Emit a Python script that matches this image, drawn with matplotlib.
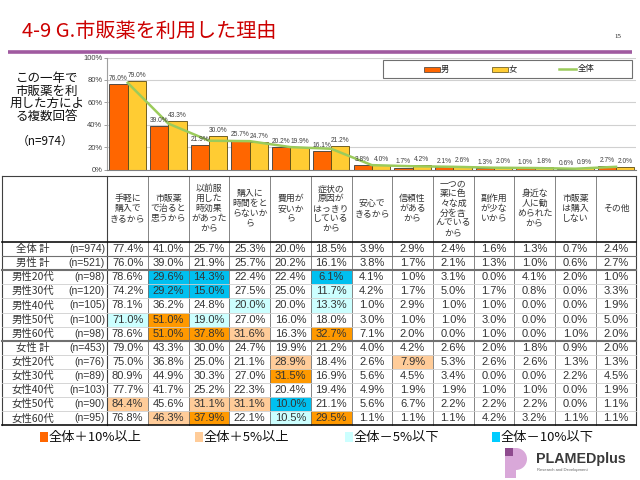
import matplotlib
matplotlib.use('Agg')
import matplotlib.pyplot as plt
from matplotlib.patches import Rectangle, Wedge
from matplotlib.lines import Line2D
import numpy as np

plt.rcParams['font.family'] = ['Liberation Sans', 'Noto Sans CJK JP', 'DejaVu Sans']

# ---------------- data ----------------
title = "4-9 G.市販薬を利用した理由"
note_lines = ["この一年で", "市販薬を利", "用した方によ", "る複数回答"]
note_n = "（n=974）"

categories = [
    ["手軽に", "購入で", "きるから"],
    ["市販薬", "で治ると", "思うから"],
    ["以前服", "用した", "時効果", "があった", "から"],
    ["購入に", "時間をと", "らないか", "ら"],
    ["費用が", "安いか", "ら"],
    ["症状の", "原因が", "はっきり", "している", "から"],
    ["安心で", "きるから"],
    ["信頼性", "がある", "から"],
    ["一つの", "薬に色", "々な成", "分を含", "んでいる", "から"],
    ["副作用", "が少な", "いから"],
    ["身近な", "人に勧", "められた", "から"],
    ["市販薬", "は購入", "しない"],
    ["その他"],
]

row_labels = ["全体 計", "男性 計", "男性20代", "男性30代", "男性40代", "男性50代", "男性60代",
              "女性 計", "女性20代", "女性30代", "女性40代", "女性50代", "女性60代"]
row_n = ["(n=974)", "(n=521)", "(n=98)", "(n=120)", "(n=105)", "(n=100)", "(n=98)",
         "(n=453)", "(n=76)", "(n=89)", "(n=103)", "(n=90)", "(n=95)"]

total = [77.4, 41.0, 25.7, 25.3, 20.0, 18.5, 3.9, 2.9, 2.4, 1.6, 1.3, 0.7, 2.4]
male = [76.0, 39.0, 21.9, 25.7, 20.2, 16.1, 3.8, 1.7, 2.1, 1.3, 1.0, 0.6, 2.7]
m20 = [78.6, 29.6, 14.3, 22.4, 22.4, 6.1, 4.1, 1.0, 3.1, 0.0, 4.1, 2.0, 1.0]
m30 = [74.2, 29.2, 15.0, 27.5, 25.0, 11.7, 4.2, 1.7, 5.0, 1.7, 0.8, 0.0, 3.3]
m40 = [78.1, 36.2, 24.8, 20.0, 20.0, 13.3, 1.0, 2.9, 1.0, 1.0, 0.0, 0.0, 1.9]
m50 = [71.0, 51.0, 19.0, 27.0, 16.0, 18.0, 3.0, 1.0, 1.0, 3.0, 0.0, 0.0, 5.0]
m60 = [78.6, 51.0, 37.8, 31.6, 16.3, 32.7, 7.1, 2.0, 0.0, 1.0, 0.0, 1.0, 2.0]
female = [79.0, 43.3, 30.0, 24.7, 19.9, 21.2, 4.0, 4.2, 2.6, 2.0, 1.8, 0.9, 2.0]
f20 = [75.0, 36.8, 25.0, 21.1, 28.9, 18.4, 2.6, 7.9, 5.3, 2.6, 2.6, 1.3, 1.3]
f30 = [80.9, 44.9, 30.3, 27.0, 31.5, 16.9, 5.6, 4.5, 3.4, 0.0, 0.0, 2.2, 4.5]
f40 = [77.7, 41.7, 25.2, 22.3, 20.4, 19.4, 4.9, 1.9, 1.9, 1.0, 1.0, 0.0, 1.9]
f50 = [84.4, 45.6, 31.1, 31.1, 10.0, 21.1, 5.6, 6.7, 2.2, 2.2, 2.2, 0.0, 1.1]
f60 = [76.8, 46.3, 37.9, 22.1, 10.5, 29.5, 1.1, 1.1, 1.1, 4.2, 3.2, 1.1, 1.1]

# highlight codes per row: 0 none, 1 +10以上, 2 +5以上, 3 -5以下, 4 -10以下
highlight = [
    "0000000000000",
    "0000000000000",
    "0440040000000",
    "0440030000000",
    "0003030000000",
    "3130000000000",
    "0112010000000",
    "0000000000000",
    "0000200200000",
    "0000100000000",
    "0000000000000",
    "2022400000000",
    "0210310000000",
]
legend_labels = ["全体＋10%以上", "全体＋5%以上", "全体－5%以下", "全体－10%以下"]
series_labels = ["男", "女", "全体"]

# ---------------- styles ----------------
C_MALE = '#FF6600'
C_FEMALE = '#FFCC33'
C_LINE = '#9BCB5B'
HL_COLORS = {1: '#FF9900', 2: '#FFCC99', 3: '#CCFFFF', 4: '#00C0F0'}
LEG_COLORS = ['#FF6600', '#FFCC99', '#CCFFFF', '#00CCFF']
TXT = '#333333'

W, H = 640, 480
TBL_LEFT = 1.5
TBL_X0 = 107.3
COL_W = 40.7
HDR_TOP = 176.0
ROW_Y0 = 242.0
ROW_H = 14.1
NCOL = len(total)
TBL_RIGHT = TBL_X0 + NCOL * COL_W
CH_TOP, CH_BOT = 57.5, 169.5

fig = plt.figure(figsize=(6.4, 4.8), dpi=100)
bg = fig.add_axes([0, 0, 1, 1])
bg.set_xlim(0, W)
bg.set_ylim(H, 0)
bg.axis('off')

# title & header line
bg.text(22, 31, title, color='#CC0000', fontsize=14.5, va='center', ha='left',
        family=['Noto Sans CJK JP', 'DejaVu Sans'])
bg.text(618, 37, "15", fontsize=5, va='center', ha='center', color='#222222', family='Liberation Serif')
bg.plot([8, 632], [51.5, 51.5], color='#A05AA0', lw=2.6, solid_capstyle='butt')

# left note
for k, s in enumerate(note_lines):
    bg.text(47, 78.5 + k * 12.5, s, fontsize=9, ha='center', va='center', color='#111111',
            family=['Noto Sans CJK JP'])
bg.text(45, 141, note_n, fontsize=8.5, ha='center', va='center', color='#111111',
        family=['Noto Sans CJK JP'])

# ---------------- chart ----------------
ax = fig.add_axes([TBL_X0 / W, 1 - CH_BOT / H, (TBL_RIGHT - TBL_X0) / W, (CH_BOT - CH_TOP) / H])
x = np.arange(NCOL)
bw = 0.45
mv = np.array(male) / 100
fv = np.array(female) / 100
tv = np.array(total) / 100
ax.bar(x - bw / 2, mv, bw, color=C_MALE, edgecolor='#3a3a3a', lw=0.6, zorder=2)
ax.bar(x + bw / 2, fv, bw, color=C_FEMALE, edgecolor='#5a4a10', lw=0.6, zorder=2)
ax.plot(x, tv, color=C_LINE, lw=1.8, zorder=3)
for i in range(NCOL):
    ax.text(x[i] - bw / 2, mv[i] + 0.02, f"{male[i]:.1f}%", fontsize=4.8, ha='center', va='bottom',
            color='#404040', zorder=4)
    ax.text(x[i] + bw / 2, fv[i] + 0.02, f"{female[i]:.1f}%", fontsize=4.8, ha='center', va='bottom',
            color='#404040', zorder=4)
ax.set_xlim(-0.5, NCOL - 0.5)
ax.set_ylim(0, 1)
ax.set_yticks(np.arange(0, 1.01, 0.2))
ax.set_yticklabels([f"{int(round(v * 100))}%" for v in np.arange(0, 1.01, 0.2)], fontsize=5.5, color='#404040')
ax.set_xticks([])
ax.tick_params(axis='y', length=2, width=0.6, color='#909090', pad=1.5)
ax.grid(axis='y', color='#D0D0D0', lw=0.8, zorder=0)
ax.set_axisbelow(True)
for s in ['top', 'right']:
    ax.spines[s].set_visible(False)
ax.spines['left'].set_color('#A0A0A0')
ax.spines['left'].set_linewidth(0.8)
ax.spines['bottom'].set_color('#808080')
ax.spines['bottom'].set_linewidth(0.8)
ax.set_facecolor('none')

# chart legend box (drawn in pixel coordinates on top of the chart)
T = bg.transData
ax.add_patch(Rectangle((383, 59.5), 249, 18.5, transform=T, facecolor='white', edgecolor='#707070',
                       lw=0.8, zorder=6, clip_on=False))
ax.add_patch(Rectangle((424, 67), 16, 4.5, transform=T, facecolor=C_MALE, edgecolor='#3a3a3a',
                       lw=0.5, zorder=7, clip_on=False))
ax.add_patch(Rectangle((492, 67), 16, 4.5, transform=T, facecolor=C_FEMALE, edgecolor='#5a4a10',
                       lw=0.5, zorder=7, clip_on=False))
ax.add_line(Line2D([559, 576], [69.2, 69.2], transform=T, color=C_LINE, lw=1.8, zorder=7, clip_on=False))
for lx, lab in zip([441, 509, 578], series_labels):
    ax.text(lx, 69, lab, transform=T, fontsize=6, ha='left', va='center', color='#222222', zorder=7,
            family=['Noto Sans CJK JP'], clip_on=False)

# ---------------- table ----------------
rows = [total, male, m20, m30, m40, m50, m60, female, f20, f30, f40, f50, f60]
nrow = len(rows)
tbl_bottom = ROW_Y0 + nrow * ROW_H

# cell fills
for r in range(nrow):
    for j in range(NCOL):
        code = int(highlight[r][j])
        if code:
            bg.add_patch(Rectangle((TBL_X0 + j * COL_W, ROW_Y0 + r * ROW_H), COL_W, ROW_H,
                                   facecolor=HL_COLORS[code], edgecolor='none', zorder=1))

# header texts
hdr_c = (HDR_TOP + ROW_Y0) / 2 - 0.5
for j, lines in enumerate(categories):
    n = len(lines)
    cx = TBL_X0 + (j + 0.5) * COL_W
    for k, s in enumerate(lines):
        yy = hdr_c + (k - (n - 1) / 2) * 9.8
        bg.text(cx, yy, s, fontsize=6.4, ha='center', va='center', color=TXT,
                family=['Noto Sans CJK JP'], zorder=3)

# body texts
for r in range(nrow):
    cy = ROW_Y0 + (r + 0.5) * ROW_H
    bg.text(33, cy, row_labels[r], fontsize=7.5, ha='center', va='center', color=TXT,
            family=['Noto Sans CJK JP', 'DejaVu Sans'], zorder=3)
    bg.text(105, cy, row_n[r], fontsize=7.5, ha='right', va='center', color=TXT, zorder=3)
    for j in range(NCOL):
        cx = TBL_X0 + (j + 0.5) * COL_W
        bg.text(cx, cy, f"{rows[r][j]:.1f}%", fontsize=8, ha='center', va='center', color=TXT, zorder=3)

# grid lines
for j in range(1, NCOL):
    xx = TBL_X0 + j * COL_W
    bg.plot([xx, xx], [HDR_TOP, tbl_bottom], color='#707070', lw=0.6, zorder=2)
bg.plot([TBL_X0, TBL_X0], [HDR_TOP, tbl_bottom], color='#404040', lw=0.8, zorder=2)
bg.plot([TBL_LEFT, TBL_LEFT], [HDR_TOP, tbl_bottom], color='#404040', lw=0.8, zorder=2)
bg.plot([TBL_RIGHT, TBL_RIGHT], [HDR_TOP, tbl_bottom], color='#404040', lw=0.8, zorder=2)
bg.plot([TBL_LEFT, TBL_RIGHT], [HDR_TOP, HDR_TOP], color='#404040', lw=0.8, zorder=2)
for r in range(nrow + 1):
    yy = ROW_Y0 + r * ROW_H
    if r == 0 or r == nrow:
        c, lw = '#111111', 1.2
    elif r in (2, 7):
        c, lw = '#707070', 1.5
    elif r == 1:
        c, lw = '#707070', 0.8
    else:
        c, lw = '#CFCFCF', 0.6
    bg.plot([TBL_LEFT, TBL_RIGHT], [yy, yy], color=c, lw=lw, zorder=2)

# bottom legend
leg_x = [40, 195, 345, 492]
for k, (lx, lab) in enumerate(zip(leg_x, legend_labels)):
    bg.add_patch(Rectangle((lx, 431.5), 8, 10, facecolor=LEG_COLORS[k], edgecolor='none'))
    bg.text(lx + 9, 437, lab, fontsize=9.5, ha='left', va='center', color='#111111',
            family=['Noto Sans CJK JP'])

# logo
bg.add_patch(Rectangle((505, 448), 11, 30, facecolor='#D9A8D9', edgecolor='none'))
bg.add_patch(Wedge((516, 459), 11, -90, 90, facecolor='#D9A8D9', edgecolor='none'))
bg.add_patch(Rectangle((505, 448), 8, 8, facecolor='#8E4A8E', edgecolor='none'))
bg.text(536, 459, "PLAMEDplus", fontsize=10.3, fontweight='bold', ha='left', va='center', color='#3a3a3a',
        family='Liberation Sans')
bg.text(537, 469.5, "Research and Development", fontsize=3, ha='left', va='center', color='#666666')

fig.savefig('out.png', dpi=100)
